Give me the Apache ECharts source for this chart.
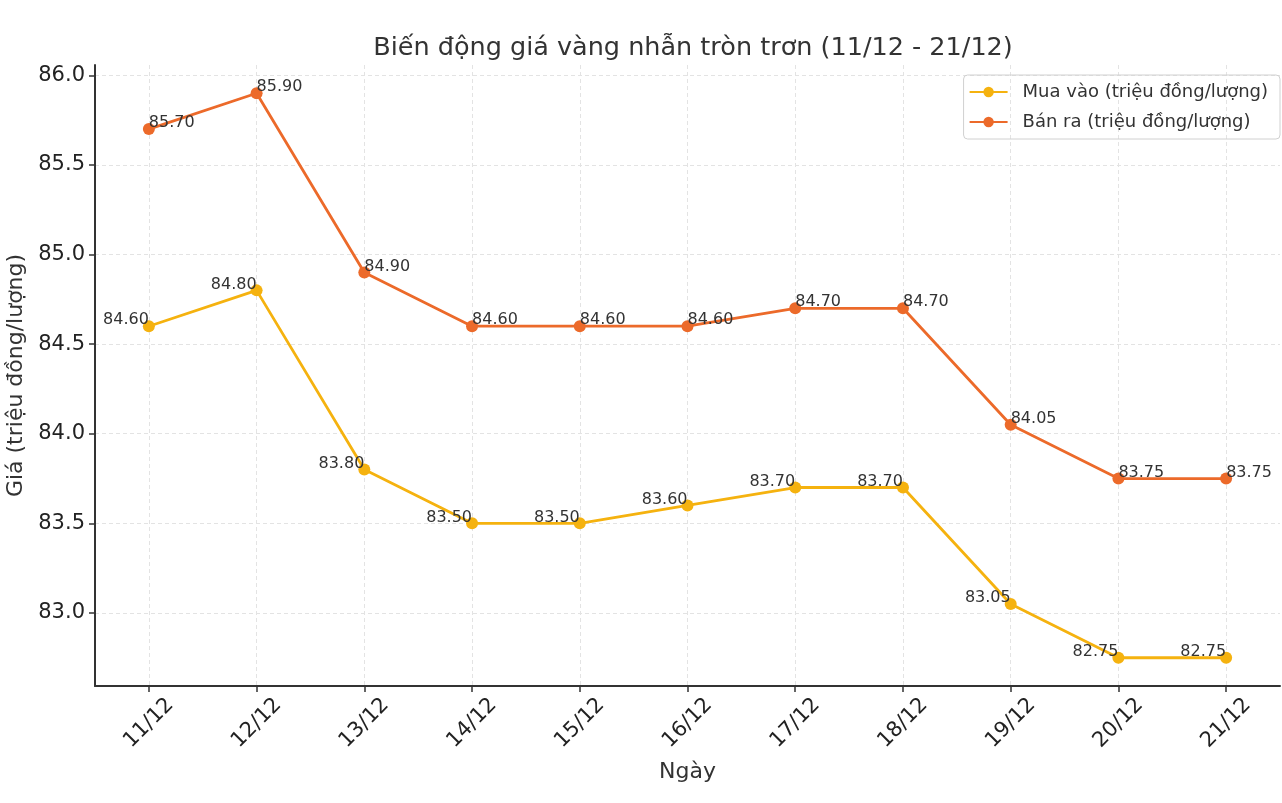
<!DOCTYPE html>
<html lang="vi">
<head>
  <meta charset="UTF-8">
  <title>Biến động giá vàng nhẫn tròn trơn</title>
  <script src="https://cdn.jsdelivr.net/npm/echarts@6/dist/echarts.min.js"></script>
  <style>
    html, body { margin: 0; padding: 0; background: #fff; }
    #chart { width: 1282px; height: 803px; }
  </style>
</head>
<body>
  <div id="chart"></div>
  <script>
    // du lieu
    var days = ['11/12', '12/12', '13/12', '14/12', '15/12', '16/12', '17/12', '18/12', '19/12', '20/12', '21/12'];
    var buy = [84.60, 84.80, 83.80, 83.50, 83.50, 83.60, 83.70, 83.70, 83.05, 82.75, 82.75];
    var sell = [85.70, 85.90, 84.90, 84.60, 84.60, 84.60, 84.70, 84.70, 84.05, 83.75, 83.75];
    var yTicks = [83.0, 83.5, 84.0, 84.5, 85.0, 85.5, 86.0];
    var xTicks = [0, 1, 2, 3, 4, 5, 6, 7, 8, 9, 10];

    var FONT = 'DejaVu Sans';
    var chart = echarts.init(document.getElementById('chart'));

    function pairs(arr) {
      return arr.map(function (v, i) { return [i, v]; });
    }

    var gridLine = { show: true, lineStyle: { color: '#e3e3e3', type: [4, 3], width: 1 } };

    chart.setOption({
      animation: false,
      textStyle: { fontFamily: FONT },
      title: {
        text: 'Biến động giá vàng nhẫn tròn trơn (11/12 - 21/12)',
        left: 688,
        textAlign: 'center',
        top: 30,
        textStyle: { fontFamily: FONT, fontSize: 25.5, fontWeight: 'normal', color: '#333' }
      },
      legend: {
        orient: 'vertical',
        right: 2,
        top: 75,
        padding: [8, 12, 8, 5],
        itemWidth: 38,
        itemHeight: 13,
        itemGap: 12,
        borderColor: '#d0d0d0',
        borderWidth: 1,
        borderRadius: 4,
        textStyle: { fontFamily: FONT, fontSize: 18, color: '#333', padding: [0, 0, 0, 10] }
      },
      grid: { left: 95, right: 2, top: 65, bottom: 117, outerBoundsMode: 'none' },
      xAxis: {
        type: 'value',
        min: -0.5,
        max: 10.5,
        name: 'Ngày',
        nameLocation: 'middle',
        nameGap: 75,
        nameTextStyle: { fontFamily: FONT, fontSize: 22, color: '#333' },
        axisLine: { show: true, onZero: false, lineStyle: { color: '#333', width: 2 } },
        axisTick: { show: true, length: 6, lineStyle: { color: '#333', width: 1.5 }, customValues: xTicks },
        axisLabel: {
          customValues: xTicks,
          formatter: function (v) { return days[Math.round(v)]; },
          rotate: 45,
          align: 'center',
          verticalAlign: 'middle',
          margin: 37,
          fontSize: 21,
          color: '#222'
        },
        splitLine: gridLine
      },
      yAxis: {
        type: 'value',
        min: 82.5925,
        max: 86.0575,
        name: 'Giá (triệu đồng/lượng)',
        nameLocation: 'middle',
        nameGap: 57,
        nameTextStyle: { fontFamily: FONT, fontSize: 22, color: '#333' },
        axisLine: { show: true, onZero: false, lineStyle: { color: '#333', width: 2 } },
        axisTick: { show: true, length: 6, lineStyle: { color: '#333', width: 1.5 }, customValues: yTicks },
        axisLabel: {
          customValues: yTicks,
          formatter: function (v) { return v.toFixed(1); },
          margin: 10,
          fontSize: 21,
          color: '#222'
        },
        splitLine: gridLine
      },
      series: [
        {
          name: 'Mua vào (triệu đồng/lượng)',
          type: 'line',
          data: pairs(buy),
          color: '#f5b20f',
          symbol: 'circle',
          symbolSize: 12,
          lineStyle: { width: 2.8 },
          label: {
            show: true,
            position: 'top',
            align: 'right',
            distance: 0,
            offset: [0, 8],
            fontSize: 16,
            color: '#333',
            formatter: function (p) { return p.value[1].toFixed(2); }
          }
        },
        {
          name: 'Bán ra (triệu đồng/lượng)',
          type: 'line',
          data: pairs(sell),
          color: '#ec6a2a',
          symbol: 'circle',
          symbolSize: 12,
          lineStyle: { width: 2.8 },
          label: {
            show: true,
            position: 'top',
            align: 'left',
            distance: 0,
            offset: [0, 8],
            fontSize: 16,
            color: '#333',
            formatter: function (p) { return p.value[1].toFixed(2); }
          }
        }
      ]
    });
  </script>
</body>
</html>
